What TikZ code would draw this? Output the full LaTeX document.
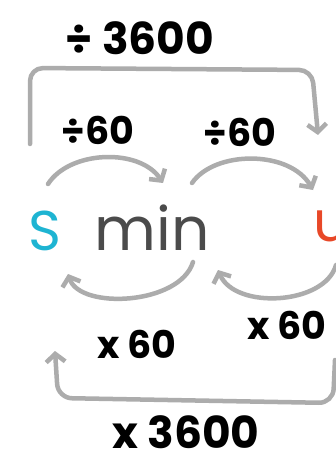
\documentclass[tikz,border=0pt]{standalone}
\usepackage{xcolor}
\usepackage{fontspec}
\setmainfont{Poppins}
\usepackage{tikz}
\usetikzlibrary{positioning,arrows.meta,calc}
\definecolor{SecCyan}{RGB}{30,180,210}
\definecolor{HrRed}{RGB}{232,72,40}
\definecolor{MinGray}{RGB}{75,75,75}
\definecolor{ArcGray}{RGB}{172,172,172}
\tikzset{
  unit/.style={inner sep=0pt, font=\fontsize{56}{56}\selectfont},
  op/.style={inner sep=0pt, font=\bfseries\fontsize{38}{38}\selectfont, text=black},
  bigop/.style={inner sep=0pt, font=\bfseries\fontsize{44}{44}\selectfont, text=black},
  conn/.style={-{Straight Barb[length=8pt,width=19pt]}, line width=4.5pt,
    draw=ArcGray, line cap=round, line join=round}
}

\begin{document}
\begin{tikzpicture}[x=1pt, y=-1pt]
  \clip (0,0) rectangle (336,462);
  \fill[white] (0,0) rectangle (336,462);
  % units
  \node[unit, text=SecCyan] (secs) at (45,231) {S};
  \node[unit, text=MinGray, font=\fontsize{60}{60}\selectfont] (mins) at (152,228) {min};
  \node[unit, text=HrRed] (hrs) at (331,226) {u};
  % labels
  \node[bigop] (divhr) at (140,38) {÷ 3600};
  \node[op] (divsa) at (98,130) {÷60};
  \node[op] (divsb) at (240,132) {÷60};
  \node[op] (mulsa) at (137,344) {x 60};
  \node[op] (mulsb) at (287,325) {x 60};
  \node[bigop] (mulhr) at (186,432) {x 3600};
  % small arcs
  \draw[conn] ($(secs)+(3,-47)$) .. controls (70,150) and (140,148) .. ($(mins)+(11,-45)$);
  \draw[conn] ($(mins)+(40,-45)$) .. controls (215,150) and (290,150) .. ($(hrs)+(-18,-36)$);
  \draw[conn] ($(mins)+(41,34)$) .. controls (180,305) and (80,310) .. ($(secs)+(23,43)$);
  \draw[conn] ($(hrs)+(5,39)$) .. controls (325,305) and (235,310) .. ($(mins)+(66,42)$);
  % long brackets
  \draw[conn, rounded corners=13pt] ($(secs)+(-15,-87)$) -- (30,68) -- (312,70) -- ($(hrs)+(-13,-91)$);
  \draw[conn, rounded corners=14pt] ($(hrs)+(4,134)$) -- (333,403) -- (58,398) -- ($(secs)+(10,120)$);
\end{tikzpicture}
\end{document}
